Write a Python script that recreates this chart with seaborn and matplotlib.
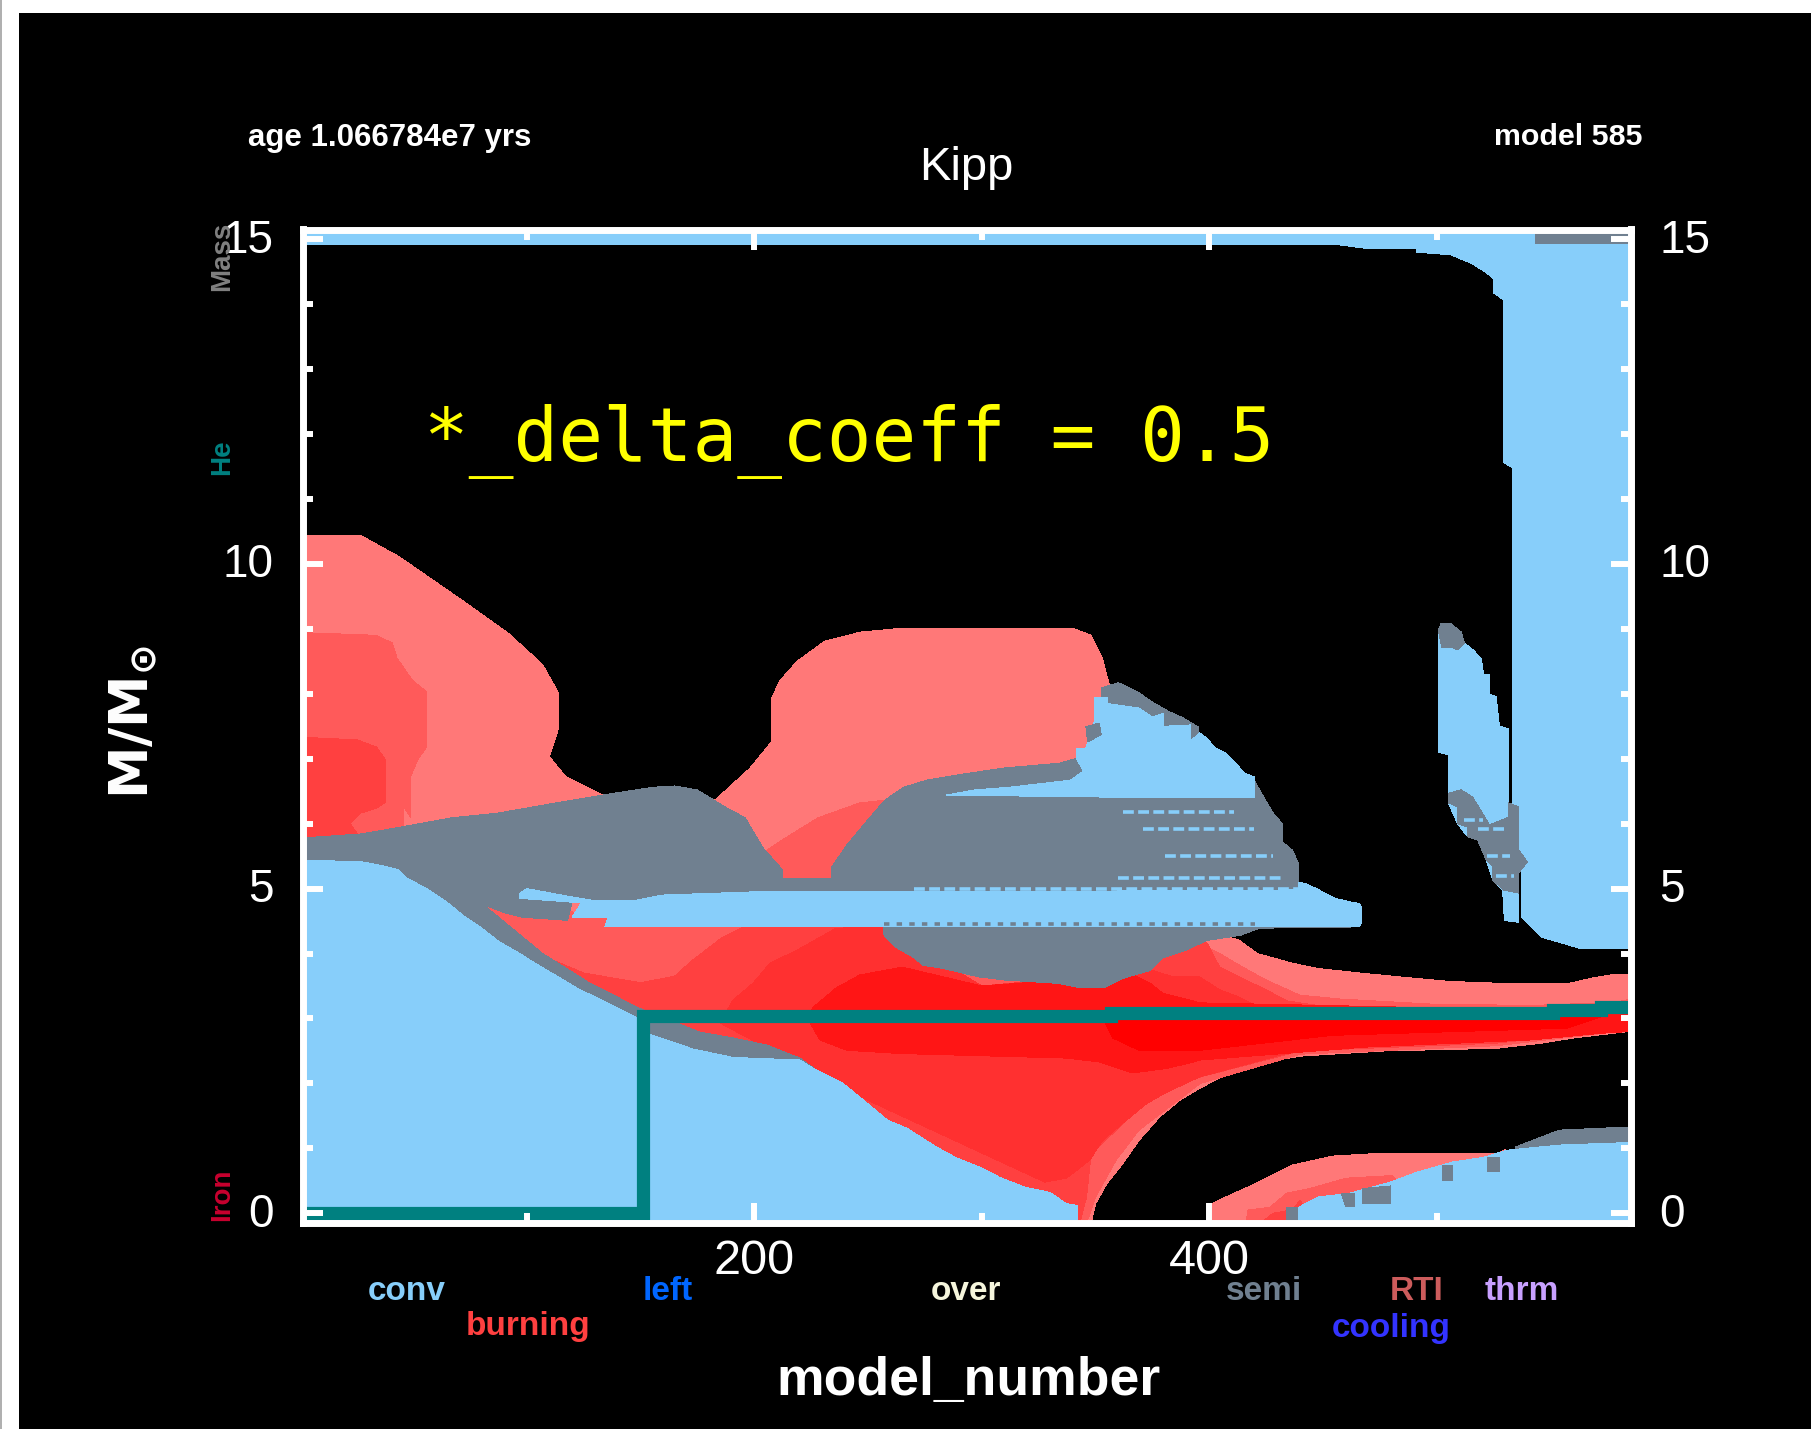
import matplotlib
matplotlib.use('Agg')
import matplotlib.pyplot as plt
from matplotlib.patches import Rectangle
from matplotlib.transforms import ScaledTranslation
import seaborn as sns

# envelope colours
burn_colors = ['#FF7878', '#FF5A5A', '#FF4040', '#FF3030', '#FF1515', '#FF0000']
conv_color = '#87CEFA'
semi_color = '#708090'
core_color = '#008080'

# burning regions (model_number, mass)
burn_a_x = [1.5, 27, 44, 72, 92, 107, 114, 114, 110, 117, 135, 160, 183, 198, 207.6, 207.6, 211, 218.8, 231, 246.7, 262, 340.6,
            348, 353, 357, 376, 406.2, 412.8, 421, 436.5, 447.5, 466, 483.5, 505.5, 528.8, 558, 568, 578, 585,
            585, 582, 560, 546, 526, 477, 440, 420, 407, 396, 387, 378, 369, 362, 355, 350, 348, 1.5]
burn_a_y = [10.44, 10.44, 10.11, 9.43, 8.93, 8.45, 8.01, 7.47, 7.03, 6.73, 6.41, 5.87, 6.37, 6.85, 7.26, 7.92, 8.19, 8.5, 8.81, 8.95, 9.0, 9.0,
            8.9, 8.54, 8.0, 6.23, 4.27, 4.21, 4.0, 3.85, 3.77, 3.70, 3.64, 3.57, 3.54, 3.54, 3.62, 3.68, 3.68,
            2.8, 2.79, 2.70, 2.62, 2.54, 2.5, 2.42, 2.3, 2.13, 1.93, 1.74, 1.48, 1.12, 0.77, 0.46, 0.15, -0.15, -0.15]
burn_b_x = [3, 34, 41, 43, 49.7, 56, 56, 52, 49, 49, 46, 46, 46, 1.5, 1.5]
burn_b_y = [8.94, 8.9, 8.78, 8.55, 8.21, 8.03, 7.18, 6.98, 6.72, 6.1, 6.26, 6.05, 5.6, 5.6, 8.94]
burn_c_x = [1.5, 25.5, 34, 38, 38, 34, 26.8, 22.4, 26.8, 1.5]
burn_c_y = [7.33, 7.29, 7.18, 6.98, 6.33, 6.24, 6.16, 6.0, 5.79, 5.79]
mid_5a_x = [204, 211, 228, 246.4, 257.3, 300, 355, 395.7, 404.5, 414.6, 425, 439.6, 457, 498, 542, 579, 585,
            585, 526, 440, 396, 369, 359, 350, 346, 320, 230, 110, 81, 134]
mid_5a_y = [5.55, 5.72, 6.09, 6.32, 6.36, 4.5, 3.6, 4.16, 4.0, 3.79, 3.59, 3.36, 3.3, 3.22, 3.2, 3.25, 3.3,
            2.82, 2.58, 2.45, 2.0, 1.28, 0.82, 0.25, -0.15, -0.15, 1.5, 3.6, 4.75, 4.6]
mid_40_x = [108, 125, 150, 165, 173, 180.5, 186, 195, 257, 300, 366, 379.4, 390.5, 398.8, 404.5, 413, 425, 434, 457, 585,
            585, 526, 440, 396, 375, 368, 357.5, 348, 346, 343, 320, 200, 100]
mid_40_y = [3.95, 3.7, 3.55, 3.65, 3.9, 4.1, 4.25, 4.4, 4.41, 3.5, 3.7, 3.93, 4.1, 4.17, 3.79, 3.64, 3.44, 3.27, 3.15, 3.1,
            2.85, 2.62, 2.5, 2.1, 1.85, 1.59, 1.23, 0.92, 0.25, -0.15, -0.15, 2, 3.8]
mid_30_x = [185, 190.6, 199.4, 206.9, 218.7, 236, 257, 300, 375, 384, 395.7, 404.5, 413, 425, 585,
            585, 526, 440, 395.7, 381, 372.4, 362, 353, 347.4, 341.6, 337, 327.6, 240]
mid_30_y = [2.93, 3.28, 3.54, 3.85, 4.05, 4.39, 4.41, 3.5, 3.74, 3.64, 3.64, 3.44, 3.33, 3.12, 3.1,
            2.88, 2.66, 2.52, 2.1, 1.86, 1.69, 1.39, 1.12, 0.82, 0.66, 0.54, 0.48, 1.9]
mid_15_x = [225.5, 236, 246.4, 265, 300, 366.7, 374, 379.4, 396, 585, 585, 571.4, 542, 469, 396, 391, 381, 366, 351.8, 337, 264, 240.7, 228.8, 224.4]
mid_15_y = [3.16, 3.47, 3.67, 3.79, 3.5, 3.67, 3.54, 3.39, 3.24, 3.1, 2.8, 2.77, 2.67, 2.56, 2.36, 2.31, 2.23, 2.16, 2.33, 2.39, 2.46, 2.51, 2.67, 2.94]
mid_00_x = [352.6, 572, 574, 557, 454, 396, 369, 357.5]
mid_00_y = [3.04, 3.1, 3.05, 2.85, 2.74, 2.51, 2.51, 2.7]
low_a_x = [401.5, 404, 416.7, 436.3, 454, 473.6, 526.5, 530, 530, 401.5]
low_a_y = [0.15, 0.2, 0.4, 0.74, 0.88, 0.92, 0.92, 0.98, -0.15, -0.15]
low_b_x = [416, 417, 426.5, 434, 444, 460, 480, 490, 440]
low_b_y = [-0.15, 0.05, 0.09, 0.31, 0.38, 0.54, 0.58, 0.3, -0.15]
low_c_x = [422.5, 428, 436, 440, 445]
low_c_y = [-0.15, 0.0, 0.05, 0.2, -0.15]

# semiconvection
semi_a_x = [1.5, 26.8, 42, 67, 87, 114.6, 138.8, 155.5, 165, 174.8, 180.5, 188, 196, 200, 204, 212.6, 212.6, 120, 118, 98, 91, 81,
            107, 127, 148.6, 176, 190.6, 205.5, 220, 227.5, 227.5, 60, 1.5]
semi_a_y = [5.78, 5.84, 5.93, 6.09, 6.16, 6.33, 6.47, 6.56, 6.58, 6.52, 6.4, 6.24, 6.09, 5.85, 5.62, 5.28, 4.9, 4.8, 4.51, 4.56, 4.62, 4.75,
            4.0, 3.56, 3.17, 2.79, 2.7, 2.59, 2.39, 2.2, 1.9, 3, 5]
semi_b_x = [211, 211, 234, 234, 240.7, 249, 257.3, 265.7, 275.8, 291, 310.5, 334, 342, 344, 380, 419.6, 423.8, 428, 432, 432, 436.5, 439, 439]
semi_b_y = [4.9, 5.15, 5.15, 5.33, 5.67, 6.02, 6.36, 6.56, 6.67, 6.76, 6.86, 6.93, 7.01, 6.83, 6.5, 6.67, 6.41, 6.16, 6.0, 5.72, 5.59, 5.39, 4.9]
semi_cap_x = [352.4, 360, 363.2, 368.4, 375, 382.5, 387.8, 395, 395.7, 352.4]
semi_cap_y = [8.09, 8.17, 8.12, 8.03, 7.87, 7.72, 7.64, 7.49, 7.2, 7.2]
semi_lens_x = [257, 257, 262, 270, 274, 283, 298.6, 310.5, 333.8, 342, 354, 362.3, 374, 379.4, 389.6, 398.8, 413.6, 422, 466, 466]
semi_lens_y = [4.45, 4.28, 4.1, 3.94, 3.82, 3.77, 3.64, 3.59, 3.54, 3.48, 3.48, 3.62, 3.74, 3.93, 4.05, 4.2, 4.28, 4.39, 4.41, 4.45]
semi_sliver_x = [500.6, 501.8, 506, 510.6, 512, 509, 506, 502]
semi_sliver_y = [8.98, 9.08, 9.08, 8.95, 8.78, 8.68, 8.72, 8.72]
semi_band_x = [505, 505, 509, 509, 513.4, 513.4, 517.8, 521.6, 524.5, 524.5, 529, 535.8, 535.8, 539.7, 535.8, 535.8, 531.4, 531.4, 523, 520, 515.6, 510.6]
semi_band_y = [6.47, 6.32, 6.26, 6.0, 5.95, 5.8, 5.75, 5.44, 5.34, 5.13, 4.98, 4.93, 5.24, 5.41, 5.6, 6.26, 6.32, 6.1, 5.98, 6.16, 6.41, 6.52]
semi_blob_x = [345.7, 351.6, 352.4, 346.5]
semi_blob_y = [7.49, 7.55, 7.37, 7.26]
semi_strip_x = [1.5, 30, 60, 100, 1.5]
semi_strip_y = [5.78, 5.7, 5.4, 5.0, 5.0]
semi_base_x = [534.5, 534.5, 544, 553.8, 585, 585, 553.8, 534.5]
semi_base_y = [0.9, 1.02, 1.15, 1.28, 1.33, 1.05, 0.95, 0.8]
semi_top_x = [543, 585, 585, 543]
semi_top_y = [15.15, 15.15, 14.92, 14.92]
semi_bits_x = [[467.3, 479.5, 479.5, 467.3], [502, 507, 507, 502], [521.8, 527.5, 527.5, 521.8], [457.9, 464, 464, 460], [433.5, 439, 439, 433.5]]
semi_bits_y = [[0.38, 0.42, 0.15, 0.15], [0.74, 0.74, 0.5, 0.5], [0.86, 0.86, 0.63, 0.63], [0.31, 0.31, 0.09, 0.09], [0.09, 0.09, -0.15, -0.15]]

# convection
conv_core_x = [1.5, 3, 28, 35.6, 43.5, 47.4, 56, 65, 73, 79.5, 88, 97, 101.4, 122, 148, 153.8, 173, 190.6, 220, 227.5, 239, 250.8, 258.7,
               267, 280, 289, 299, 308, 319, 330, 337, 342, 342, 1.5]
conv_core_y = [5.44, 5.44, 5.41, 5.36, 5.29, 5.16, 5.0, 4.79, 4.56, 4.41, 4.18, 4.0, 3.9, 3.47, 3.02, 2.76, 2.53, 2.4, 2.36, 2.2, 2.0, 1.66, 1.43,
               1.31, 1.02, 0.85, 0.71, 0.55, 0.4, 0.32, 0.15, 0.12, -0.15, -0.15]
conv_strip_x = [97, 100, 120, 128.7, 146.7, 159.4, 200, 300, 439, 439, 442, 447, 455, 462.6, 466, 467, 467, 466, 134.4, 135.7, 120, 124, 97]
conv_strip_y = [4.93, 5.0, 4.87, 4.82, 4.81, 4.9, 4.95, 4.95, 4.98, 5.1, 5.08, 5.0, 4.85, 4.79, 4.77, 4.7, 4.51, 4.41, 4.41, 4.55, 4.56, 4.78, 4.85]
conv_dome_x = [284.4, 297, 312, 339, 344.6, 341.5, 341.5, 345.7, 349.6, 349.6, 355.3, 355.3, 369, 375, 380, 380, 391.7, 391.7, 395.7, 398.6, 402.8, 407, 411, 415.4, 419.6, 419.6, 352.4]
conv_dome_y = [6.44, 6.52, 6.56, 6.67, 6.81, 7.01, 7.16, 7.16, 7.6, 7.95, 7.95, 7.85, 7.78, 7.64, 7.7, 7.5, 7.52, 7.27, 7.4, 7.32, 7.16, 7.09, 6.95, 6.78, 6.72, 6.41, 6.41]
conv_env_x = [1.5, 1.5, 455.5, 471, 491, 491, 506, 515, 521, 524.6, 524.6, 529, 529, 533, 533, 535.8, 535.8, 537, 537, 542, 546, 555, 562.6, 585, 585]
conv_env_y = [15.15, 14.92, 14.92, 14.85, 14.85, 14.8, 14.76, 14.63, 14.5, 14.4, 14.18, 14.07, 11.57, 11.48, 6.3, 6.26, 5.6, 5.24, 4.56, 4.39, 4.25, 4.16, 4.08, 4.07, 15.15]
conv_sliver_x = [500.6, 501.8, 506, 510.6, 512, 516, 519.4, 520.5, 523, 523, 526, 527.4, 531.4, 531.4, 535.8, 535.8, 529.6, 528.8, 524.5, 521.6, 517.8, 513.4, 509, 505, 505, 500.6]
conv_sliver_y = [8.98, 9.08, 9.08, 8.95, 8.78, 8.67, 8.54, 8.29, 8.29, 8, 7.95, 7.5, 7.46, 6.32, 6.26, 4.48, 4.51, 4.98, 5.13, 5.44, 5.75, 5.8, 6.0, 6.32, 7.06, 7.1]
conv_low_x = [439, 448, 461.8, 479.5, 491, 507, 520.4, 530.6, 553.8, 585, 585, 439]
conv_low_y = [0.09, 0.25, 0.31, 0.48, 0.63, 0.79, 0.86, 0.97, 1.05, 1.09, -0.15, -0.15]

# the dotted rows of conv cells inside the semi region
streak_x0 = [362, 371, 380.5, 360, 270, 518, 522, 512, 526]
streak_x1 = [411, 419.6, 427.8, 432, 439, 530, 532, 520, 534]
streak_y = [6.18, 5.92, 5.5, 5.17, 5.0, 5.92, 5.5, 6.05, 5.2]

# helium core boundary
core_x = [1.5, 151, 151, 356.6, 356.6, 551, 551, 572, 572, 585]
core_y = [0, 0, 3.04, 3.04, 3.09, 3.09, 3.13, 3.13, 3.18, 3.18]

x_major = [200, 400]
x_minor = [100, 300, 500]
y_major = [0, 5, 10, 15]
y_minor = [1, 2, 3, 4, 6, 7, 8, 9, 11, 12, 13, 14]
legend_labels = ['conv', 'burning', 'left', 'over', 'semi', 'cooling', 'RTI', 'thrm']
legend_colors = ['#87CEFA', '#FF4040', '#0066FF', '#F5F5DC', '#708090', '#3333FF', '#CD5C5C', '#C8A0FF']

sns.set_theme(style='dark', rc={'figure.facecolor': 'black', 'axes.facecolor': 'black', 'font.family': ['Liberation Sans', 'DejaVu Sans']})

W, H = 1811, 1429
fig = plt.figure(figsize=(W / 100, H / 100), dpi=100, facecolor='black')
ax = fig.add_axes([302.5 / W, 1 - 1223 / H, 1328 / W, 993.5 / H])


def region(xs, ys, color, z):
    ax.fill(xs, ys, color=color, linewidth=0, antialiased=False, zorder=z)


# burning first, semi over it, conv on top
region(burn_a_x, burn_a_y, burn_colors[0], 1.0)
region(low_a_x, low_a_y, burn_colors[0], 1.0)
region(burn_b_x, burn_b_y, burn_colors[1], 1.1)
region(mid_5a_x, mid_5a_y, burn_colors[1], 1.1)
region(low_b_x, low_b_y, burn_colors[1], 1.1)
region(burn_c_x, burn_c_y, burn_colors[2], 1.2)
region(mid_40_x, mid_40_y, burn_colors[2], 1.2)
region(low_c_x, low_c_y, burn_colors[2], 1.2)
region(mid_30_x, mid_30_y, burn_colors[3], 1.3)
region(mid_15_x, mid_15_y, burn_colors[4], 1.4)
region(mid_00_x, mid_00_y, burn_colors[5], 1.5)

for xs, ys in [(semi_a_x, semi_a_y), (semi_b_x, semi_b_y), (semi_cap_x, semi_cap_y), (semi_lens_x, semi_lens_y),
               (semi_strip_x, semi_strip_y), (semi_base_x, semi_base_y)]:
    region(xs, ys, semi_color, 1.6)

for xs, ys in [(conv_core_x, conv_core_y), (conv_strip_x, conv_strip_y), (conv_dome_x, conv_dome_y),
               (conv_env_x, conv_env_y), (conv_sliver_x, conv_sliver_y), (conv_low_x, conv_low_y)]:
    region(xs, ys, conv_color, 1.7)

for xs, ys in [(semi_sliver_x, semi_sliver_y), (semi_band_x, semi_band_y), (semi_blob_x, semi_blob_y), (semi_top_x, semi_top_y)]:
    region(xs, ys, semi_color, 1.8)
for xs, ys in zip(semi_bits_x, semi_bits_y):
    region(xs, ys, semi_color, 1.8)

ax.hlines(streak_y, streak_x0, streak_x1, colors=conv_color, linewidth=2.6, linestyles=(0, (3, 1.2)), zorder=1.9)
ax.hlines([4.46], [257], [420], colors=semi_color, linewidth=2.6, linestyles=(0, (1.5, 2)), zorder=1.9)

sns.lineplot(x=core_x, y=core_y, sort=False, estimator=None, color=core_color, linewidth=9.5, ax=ax, zorder=2,
             solid_joinstyle='miter', solid_capstyle='butt')

ax.set_xlim(1.5, 585)
ax.set_ylim(-0.15, 15.15)
ax.set_axisbelow(False)
ax.set_xticks(x_major)
ax.set_xticks(x_minor, minor=True)
ax.set_yticks(y_major)
ax.set_yticks(y_minor, minor=True)
ax.tick_params(which='major', direction='in', length=14.4, width=4.3, color='white', labelcolor='white',
               top=True, right=True, bottom=True, left=True, labelright=True)
ax.tick_params(which='minor', direction='in', length=7.2, width=4.3, color='white', top=True, right=True, bottom=True, left=True)
ax.tick_params(axis='x', which='major', pad=11.5, labelsize=35)
ax.tick_params(axis='y', which='major', pad=21, labelsize=33)
for spine in ax.spines.values():
    spine.set_visible(True)
    spine.set_color('white')
    spine.set_linewidth(5)
    spine.set_zorder(5)

# y tick labels sit a little above their ticks in the original
nudge = ScaledTranslation(0, 3.5 / 100, fig.dpi_scale_trans)
for tick in ax.yaxis.get_major_ticks():
    tick.label1.set_transform(tick.label1.get_transform() + nudge)
    tick.label2.set_transform(tick.label2.get_transform() + nudge)


def px_text(px, py, s, **kw):
    fig.text(px / W, 1 - py / H, s, ha='center', va='center', **kw)


px_text(390, 138, 'age 1.066784e7 yrs', color='white', fontsize=22.5, fontweight='bold')
px_text(1568, 137, 'model 585', color='white', fontsize=21.9, fontweight='bold')
px_text(966, 168, 'Kipp', color='white', fontsize=34)
px_text(968, 1381, 'model_number', color='white', fontsize=38.5, fontweight='bold')
px_text(134, 722, r'$\mathbf{M/M_{\odot}}$', color='white', fontsize=38, rotation=90)
px_text(849, 442, '*_delta_coeff = 0.5', color='#FFFF00', fontsize=53.5, family='DejaVu Sans Mono')

legend_px = [(407, 1292), (528, 1327), (668, 1292), (966, 1292), (1264, 1292), (1391, 1328), (1417, 1292), (1522, 1292)]
for label, color, (px, py) in zip(legend_labels, legend_colors, legend_px):
    px_text(px, py, label, color=color, fontsize=24, fontweight='bold')

px_text(222, 256, 'Mass', color='#808080', fontsize=20, fontweight='bold', rotation=90)
px_text(222, 457, 'He', color='#008080', fontsize=20, fontweight='bold', rotation=90)
px_text(222, 1195, 'Iron', color='#C8002F', fontsize=20, fontweight='bold', rotation=90)

# white scan borders of the screenshot
fig.patches.append(Rectangle((0, 0), 19 / W, 1, transform=fig.transFigure, facecolor='white', edgecolor='none'))
fig.patches.append(Rectangle((0, 1 - 13 / H), 1, 13 / H, transform=fig.transFigure, facecolor='white', edgecolor='none'))
fig.patches.append(Rectangle((0, 0), 2 / W, 1, transform=fig.transFigure, facecolor='#B0B0B0', edgecolor='none'))

fig.savefig('out.png', dpi=100, facecolor=fig.get_facecolor())
